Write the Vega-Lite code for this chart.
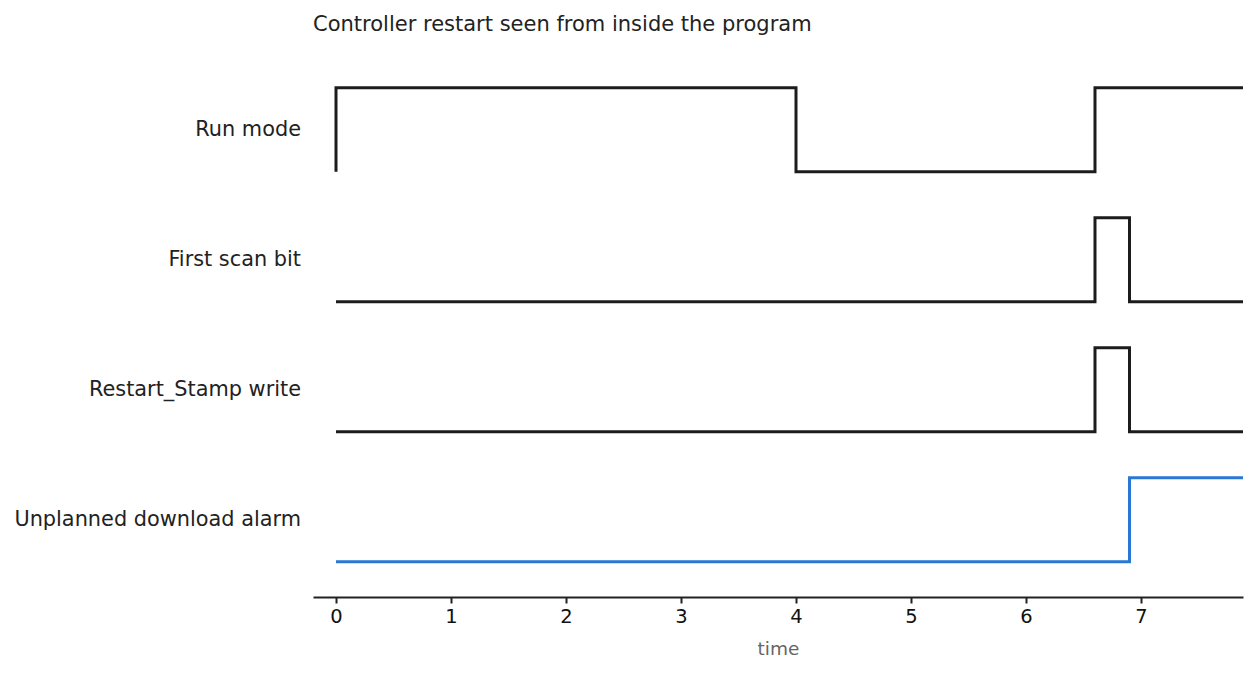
{
  "$schema": "https://vega.github.io/schema/vega-lite/v6.json",
  "padding": {"left": 14, "top": 14, "right": 15, "bottom": 10},
  "bounds": "flush",
  "title": {"text": "Controller restart seen from inside the program", "anchor": "start", "frame": "group", "fontSize": 21, "fontWeight": "normal", "font": "DejaVu Sans", "color": "#222222", "offset": 30},
  "data": {"values": [
    {"signal": "Run mode", "t": 0, "level": 0},
    {"signal": "Run mode", "t": 0, "level": 1},
    {"signal": "Run mode", "t": 4, "level": 0},
    {"signal": "Run mode", "t": 6.6, "level": 1},
    {"signal": "Run mode", "t": 7.9, "level": 1},
    {"signal": "First scan bit", "t": 0, "level": 0},
    {"signal": "First scan bit", "t": 6.6, "level": 1},
    {"signal": "First scan bit", "t": 6.9, "level": 0},
    {"signal": "First scan bit", "t": 7.9, "level": 0},
    {"signal": "Restart_Stamp write", "t": 0, "level": 0},
    {"signal": "Restart_Stamp write", "t": 6.6, "level": 1},
    {"signal": "Restart_Stamp write", "t": 6.9, "level": 0},
    {"signal": "Restart_Stamp write", "t": 7.9, "level": 0},
    {"signal": "Unplanned download alarm", "t": 0, "level": 0},
    {"signal": "Unplanned download alarm", "t": 6.9, "level": 1},
    {"signal": "Unplanned download alarm", "t": 7.9, "level": 1}
  ]},
  "facet": {
    "row": {
      "field": "signal", "type": "nominal",
      "sort": ["Run mode", "First scan bit", "Restart_Stamp write", "Unplanned download alarm"],
      "header": {"title": null, "labels": false}
    }
  },
  "spacing": {"row": 0},
  "spec": {
    "width": 930,
    "height": 129.5,
    "encoding": {
      "x": {"field": "t", "type": "quantitative", "scale": {"domain": [-0.2, 7.887], "nice": false, "zero": false},
        "axis": {"title": "time", "titleColor": "#666666", "titleFontWeight": "normal", "titleFontSize": 18.5, "titleFont": "DejaVu Sans", "titlePadding": 14, "values": [0,1,2,3,4,5,6,7], "labelFontSize": 19.5, "labelFont": "DejaVu Sans", "labelColor": "#111111", "domainColor": "#222222", "domainWidth": 2, "tickColor": "#222222", "tickWidth": 2, "tickSize": 6, "grid": false, "offset": 12, "labelPadding": 4}},
      "y": {"field": "level", "type": "quantitative", "scale": {"domain": [-0.2708, 1.2708], "nice": false, "zero": false}, "axis": null}
    },
    "layer": [
      {
        "mark": {"type": "line", "interpolate": "step-after", "strokeWidth": 3, "clip": true},
        "encoding": {
          "color": {"field": "signal", "type": "nominal", "legend": null,
            "scale": {"domain": ["Run mode", "First scan bit", "Restart_Stamp write", "Unplanned download alarm"], "range": ["#1c1c1c", "#1c1c1c", "#1c1c1c", "#2a78d6"]}}
        }
      },
      {
        "transform": [{"filter": "datum.t == 0 && datum.level == 0"}],
        "mark": {"type": "text", "align": "right", "baseline": "middle", "dx": -12, "fontSize": 20.85, "font": "DejaVu Sans", "color": "#222222"},
        "encoding": {
          "x": {"datum": -0.2},
          "y": {"datum": 0.5},
          "text": {"field": "signal", "type": "nominal"}
        }
      }
    ]
  },
  "config": {"view": {"stroke": null}, "font": "DejaVu Sans"}
}
